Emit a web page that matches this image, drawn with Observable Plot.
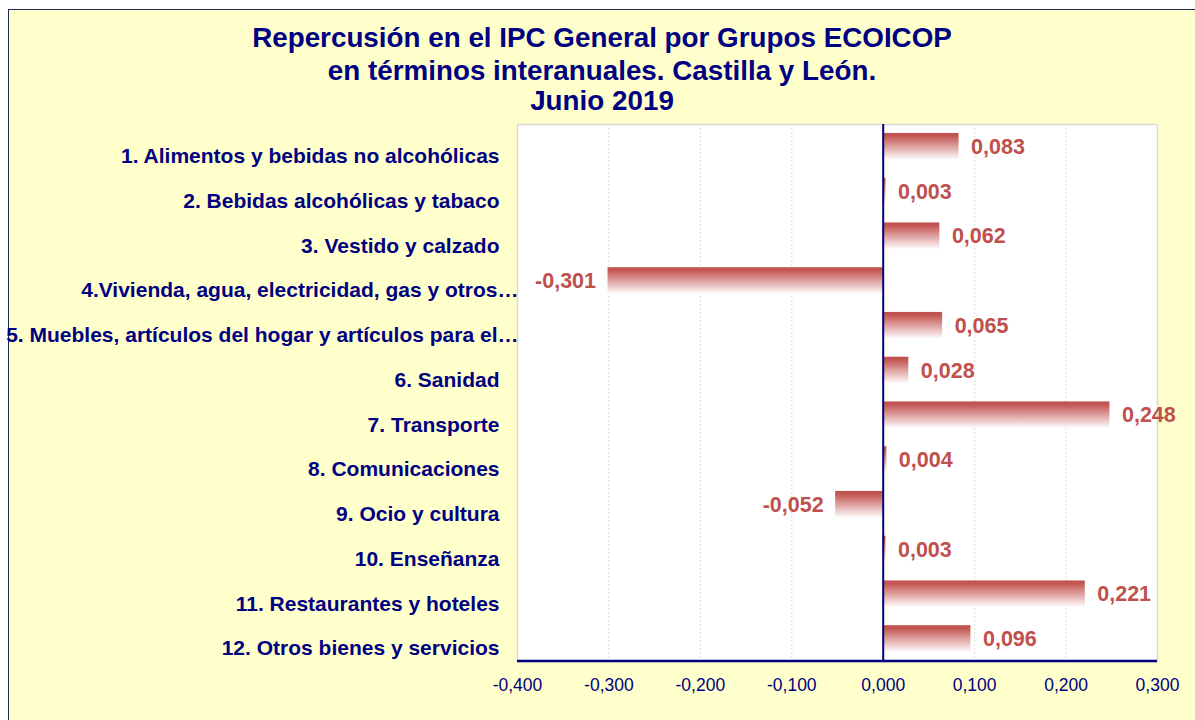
<!DOCTYPE html>
<html>
<head>
<meta charset="utf-8">
<script src="https://cdn.jsdelivr.net/npm/d3@7"></script>
<script src="https://cdn.jsdelivr.net/npm/@observablehq/plot@0.6"></script>
<style>
  html, body { margin: 0; padding: 0; background: #ffffff; overflow: hidden; }
  #wrap { position: relative; width: 1195px; height: 720px; overflow: hidden; font-family: "Liberation Sans", Arial, sans-serif; }
  #panel { position: absolute; left: 8px; top: 9px; width: 1200px; height: 720px; background: #FFFFCC; border: 1px solid #1F2A5A; }
  .tl { position: absolute; left: 0; width: 1204px; text-align: center; font-weight: bold; font-size: 27.8px; line-height: 28px; color: #000080; white-space: nowrap; }
  #chart { position: absolute; left: 0; top: 110px; }
</style>
</head>
<body>
<div id="wrap">
  <div id="panel"></div>
  <div class="tl" style="top:24px">Repercusión en el IPC General por Grupos ECOICOP</div>
  <div class="tl" style="top:57px">en términos interanuales. Castilla y León.</div>
  <div class="tl" style="top:87px">Junio 2019</div>
  <div id="chart"></div>
</div>
<script>
const categories = [
  "1. Alimentos y bebidas no alcohólicas",
  "2. Bebidas alcohólicas y tabaco",
  "3. Vestido y calzado",
  "4.Vivienda, agua, electricidad, gas y otros…",
  "5. Muebles, artículos del hogar y artículos para el…",
  "6. Sanidad",
  "7. Transporte",
  "8. Comunicaciones",
  "9. Ocio y cultura",
  "10. Enseñanza",
  "11. Restaurantes y hoteles",
  "12. Otros bienes y servicios"
];
const values = [0.083, 0.003, 0.062, -0.301, 0.065, 0.028, 0.248, 0.004, -0.052, 0.003, 0.221, 0.096];
const xTicks = [-0.4, -0.3, -0.2, -0.1, 0, 0.1, 0.2, 0.3];

const data = categories.map((c, i) => ({cat: c, v: values[i]}));
const fmt = v => d3.format(".3f")(v).replace("−", "-").replace(".", ",");

const navy = "#000080";
const red = "#C0504D";

const gradientDefs = () => {
  const defs = d3.create("svg:defs");
  const g = defs.append("linearGradient").attr("id", "barGrad")
    .attr("x1", 0).attr("y1", 0).attr("x2", 0).attr("y2", 1);
  g.append("stop").attr("offset", "0%").attr("stop-color", red);
  g.append("stop").attr("offset", "12%").attr("stop-color", "#C45754");
  g.append("stop").attr("offset", "100%").attr("stop-color", "#FFFFFF");
  return defs.node();
};

const bottomLine = (index, scales, values, dim) => {
  const y = dim.height - dim.marginBottom;
  const l = d3.create("svg:line")
    .attr("x1", dim.marginLeft).attr("x2", dim.width - dim.marginRight)
    .attr("y1", y).attr("y2", y)
    .attr("stroke", navy).attr("stroke-width", 2.5);
  return l.node();
};

const labelStyle = {frameAnchor: "left", textAnchor: "end", dy: 9.5, fill: navy, fontWeight: "bold", fontSize: 21};
const isCut = d => d.endsWith("…");

const chart = Plot.plot({
  width: 1195,
  height: 610,
  marginTop: 14,
  marginBottom: 59,
  marginLeft: 517,
  marginRight: 38,
  style: {background: "transparent", fontFamily: "'Liberation Sans', Arial, sans-serif"},
  x: {domain: [-0.4, 0.3], axis: null},
  y: {domain: categories, paddingInner: 0.4, paddingOuter: 0.2, round: false, axis: null},
  marks: [
    gradientDefs,
    Plot.frame({fill: "white", stroke: "#D9D9D9", strokeWidth: 1.5}),
    Plot.ruleX(xTicks, {stroke: "#DADADA", strokeDasharray: "2,2", strokeWidth: 1}),
    Plot.barX(data, {x: "v", y: "cat", fill: "url(#barGrad)"}),
    Plot.ruleX([0], {stroke: navy, strokeWidth: 2}),
    bottomLine,
    Plot.text(data.filter(d => d.v >= 0), {x: "v", y: "cat", text: d => fmt(d.v), textAnchor: "start", dx: 12, fill: red, fontWeight: "bold", fontSize: 21.5}),
    Plot.text(data.filter(d => d.v < 0), {x: "v", y: "cat", text: d => fmt(d.v), textAnchor: "end", dx: -12, fill: red, fontWeight: "bold", fontSize: 21.5}),
    Plot.text(categories.filter(d => !isCut(d)), {y: d => d, text: d => d, dx: -18, ...labelStyle}),
    Plot.text(categories.filter(isCut), {y: d => d, text: d => d, dx: 1, ...labelStyle}),
    Plot.text(xTicks, {x: d => d, text: d => fmt(d), frameAnchor: "bottom", dy: 29, fill: navy, fontSize: 17.5})
  ]
});
document.getElementById("chart").appendChild(chart);
</script>
</body>
</html>
